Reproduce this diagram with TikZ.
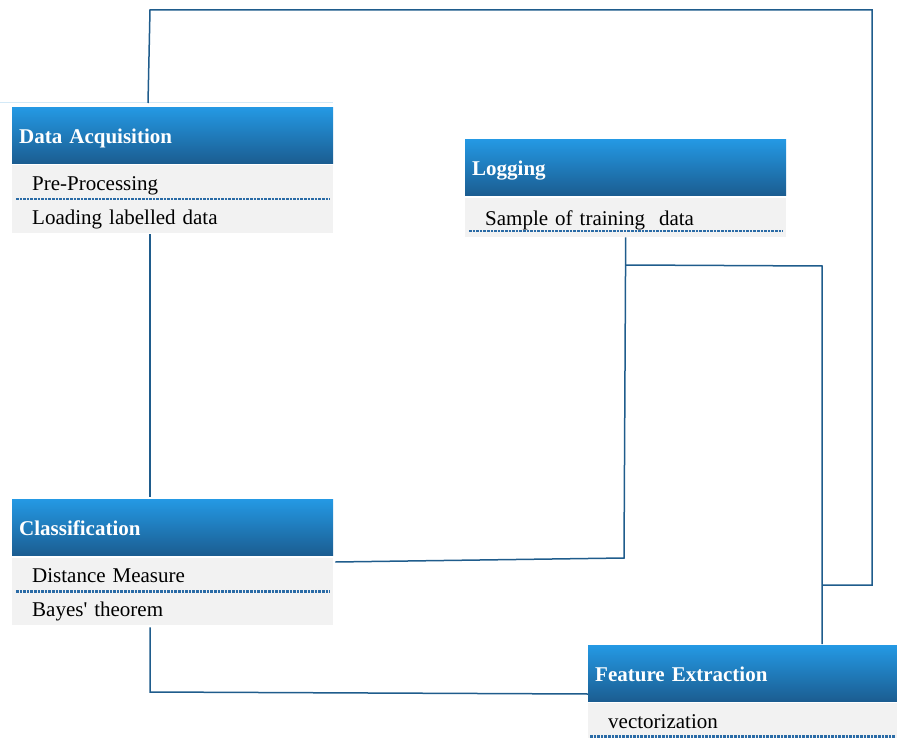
\documentclass[tikz,border=0pt]{standalone}
\usepackage{fontspec}
\setmainfont{Liberation Serif}
\usetikzlibrary{calc}

\definecolor{hdtop}{HTML}{2499E4}
\definecolor{hdbot}{HTML}{1B5D91}
\definecolor{rowgray}{HTML}{F2F2F2}
\definecolor{sepblue}{HTML}{2A6BA6}
\definecolor{linkblue}{HTML}{1F5C8C}
\definecolor{paleblue}{HTML}{D3E9F7}

\tikzset{
  hdr/.style={anchor=north west, minimum height=56pt, inner xsep=7pt,
    inner ysep=0pt, text width=#1, align=left, text=white,
    text height=16pt, text depth=0pt,
    font=\fontsize{21}{24}\selectfont\bfseries,
    top color=hdtop, bottom color=hdbot, draw=none},
  row/.style={anchor=north west, fill=rowgray, inner xsep=20pt,
    inner ysep=0pt, text width=#1, align=left, text=black,
    text height=16pt, text depth=0pt,
    font=\fontsize{21}{24}\selectfont},
  sep/.style={sepblue, line width=2.2pt, dash pattern=on 2.6pt off 1pt},
  link/.style={linkblue, line width=1.5pt},
}

\begin{document}
\begin{tikzpicture}[x=1pt,y=-1pt]
\useasboundingbox (0,0) rectangle (897,738);

% Data Acquisition
\draw[paleblue, line width=1pt] (0,103) -- (333,103);
\node[hdr=307pt] (da) at (12,107) {Data Acquisition};
\node[row=281pt, minimum height=34pt] (da1) at (12,165) {Pre-Processing};
\node[row=281pt, minimum height=34pt] (da2) at (12,199) {Loading labelled data};
\draw[sep] ($(da1.south west)+(4,0)$) -- ($(da1.south east)+(-3,0)$);

% Logging
\node[hdr=307pt] (lg) at (465,139) {Logging};
\node[row=281pt, minimum height=39pt] (lg1) at (465,198) {Sample of training\ \ data};
\draw[sep] ($(lg1.south west)+(4,-6)$) -- ($(lg1.south east)+(-3,-6)$);

% Classification
\node[hdr=307pt] (cl) at (12,499) {Classification};
\node[row=281pt, minimum height=33pt] (cl1) at (12,558) {Distance Measure};
\node[row=281pt, minimum height=34pt] (cl2) at (12,591) {Bayes\textquotesingle{} theorem};
\draw[sep] ($(cl1.south west)+(4,0)$) -- ($(cl1.south east)+(-3,0)$);

% Feature Extraction
\node[hdr=295pt] (fe) at (588,645) {Feature Extraction};
\node[row=269pt, minimum height=35pt] (fe1) at (588,703) {vectorization};
\draw[sep] ($(fe1.south west)+(2,-2)$) -- ($(fe1.south east)+(-2,-2)$);

% connector corners
\coordinate (topL) at (150,10);
\coordinate (topR) at (872,10);
\coordinate (sideR) at (872,585);
\coordinate (joinR) at (822,585);
\coordinate (brA) at (626,265);
\coordinate (brB) at (822,266);
\coordinate (lgDown) at (624,558);
\coordinate (clCorner) at (150,692);

% Data Acquisition -> loop over the top -> Feature Extraction
\draw[link] ($(da.north west)+(136,-4)$) -- (topL) -- (topR) -- (sideR) -- (joinR);
% Logging -> Classification
\draw[link] (lg1.south) -- (lgDown) -- ($(cl1.north east)+(2,4)$);
% Logging -> Feature Extraction
\draw[link] (brA) -- (brB) -- ($(fe.north west)+(234,-1)$);
% Data Acquisition -> Classification
\draw[link] ($(da2.south west)+(138,1)$) -- ($(cl.north west)+(138,-2)$);
% Classification -> Feature Extraction
\draw[link] ($(cl2.south west)+(138,2)$) -- (clCorner) -- ($(fe.north west)+(0,49)$);
\end{tikzpicture}
\end{document}
